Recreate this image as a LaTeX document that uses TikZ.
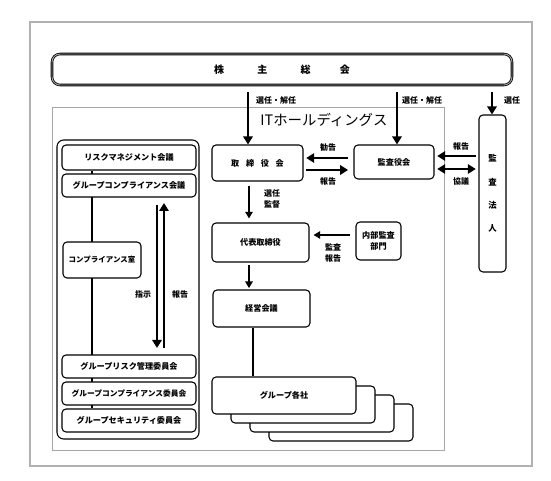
\documentclass[tikz,border=0pt]{standalone}
\usepackage{fontspec}
\setmainfont{Noto Sans CJK JP}
\usetikzlibrary{arrows.meta,backgrounds}

\tikzset{
  box/.style={draw, rounded corners=3pt, line width=0.8pt, fill=white, inner sep=0pt, align=center, font=\bfseries\fontsize{6.1}{8}\selectfont},
  lbl/.style={inner sep=0.75pt, align=center, font=\bfseries\fontsize{6}{8}\selectfont},
  arr/.style={line width=2.1pt, -{Triangle[length=6pt,width=7pt]}},
  arrs/.style={line width=1.5pt, -{Triangle[length=5pt,width=5.5pt]}},
}

\begin{document}
\begin{tikzpicture}[x=0.75pt,y=0.75pt,yscale=-1,xscale=1]
\useasboundingbox (0,0) rectangle (551,481);

%Frames
\draw [draw=black!60, double=black!30, double distance=0.8pt, line width=0.5pt] (30,22) rectangle (532,466);
\draw [black!35, line width=0.6pt] (52,107) rectangle (444,450);

% Shareholders meeting
\node [box, rounded corners=6pt, double=black!35, double distance=0.7pt, line width=0.6pt, minimum width=345pt, minimum height=23.25pt, font=\bfseries\fontsize{7.5}{9}\selectfont] (soukai) at (282,69.5) {株\hspace{25pt}主\hspace{25pt}総\hspace{22pt}会};

% Title
\node [inner sep=0.75pt, font=\fontsize{10.8}{12}\selectfont] (title) at (324,120) {ITホールディングス};

% Boxes
\node [box, minimum width=20.25pt, minimum height=117.75pt, font=\bfseries\fontsize{6.3}{17.5}\selectfont] (hojin) at (492.5,193.5) {監\\査\\法\\人};
\node [box, minimum width=68.25pt, minimum height=27pt] (torishimari) at (257.5,163) {取\hspace{5pt}締\hspace{5pt}役\hspace{5pt}会};
\node [box, minimum width=60pt, minimum height=25.5pt] (kansayaku) at (394,162) {監査役会};
\node [box, minimum width=72.75pt, minimum height=29.25pt] (daihyo) at (260.5,242.5) {代表取締役};
\node [box, minimum width=33.75pt, minimum height=28.5pt] (naibu) at (378.5,241) {内部監査\\部門};
\node [box, minimum width=72.75pt, minimum height=27.75pt] (keiei) at (261.5,308.5) {経営会議};

% Group companies
\node [box, minimum width=108pt, minimum height=27.75pt] (grpC) at (341,422.5) {};
\node [box, minimum width=108pt, minimum height=27.75pt] (grpB) at (322,413.5) {};
\node [box, minimum width=108pt, minimum height=27.75pt] (grpA) at (303,404.5) {};
\node [box, minimum width=108pt, minimum height=27.75pt] (grp) at (284,395.5) {グループ各社};

% Left panel
\node [box, fill=none, rounded corners=5pt, minimum width=106.5pt, minimum height=224.25pt] (panel) at (128,289.5) {};
\node [box, minimum width=100.5pt, minimum height=18.75pt] (rmc) at (129,157.5) {リスクマネジメント会議};
\node [box, minimum width=100.5pt, minimum height=17.25pt] (gcc) at (129,185.5) {グループコンプライアンス会議};
\node [box, minimum width=58.5pt, minimum height=27pt, font=\bfseries\fontsize{5.6}{8}\selectfont] (comproom) at (102,260) {コンプライアンス室};
\node [box, minimum width=100.5pt, minimum height=17.25pt] (grc) at (129,366.5) {グループリスク管理委員会};
\node [box, minimum width=100.5pt, minimum height=17.25pt, font=\bfseries\fontsize{5.8}{8}\selectfont] (gcom) at (129,393.5) {グループコンプライアンス委員会};
\node [box, minimum width=100.5pt, minimum height=17.25pt] (gsec) at (129,420.5) {グループセキュリティ委員会};

\coordinate (spine) at (92,0);
\begin{scope}[on background layer]
\draw [line width=1.5pt] (rmc.south -| spine) -- (gsec.north -| spine);
\end{scope}

% Left panel arrows
\coordinate (shijiT) at (157,205);
\coordinate (shijiB) at (157,348);
\coordinate (hokokuB) at (164,348);
\coordinate (hokokuT) at (164,203);
\draw [arr] (shijiT) -- (shijiB);
\draw [arr] (hokokuB) -- (hokokuT);
\node [lbl] (lshiji) at (143,294) {指示};
\node [lbl] (lhokoku) at (180,294) {報告};

% Arrows from shareholders
\coordinate (selA) at (248,0);
\coordinate (selB) at (397,0);
\coordinate (selC) at (492,0);
\draw [arr, shorten <=5pt] (soukai.south -| selA) -- (selA |- torishimari.north);
\draw [arr, shorten <=5pt] (soukai.south -| selB) -- (selB |- kansayaku.north);
\draw [arr, shorten <=5pt] (soukai.south -| selC) -- (selC |- hojin.north);
\node [lbl] (lselA) at (276,100) {選任・解任};
\node [lbl] (lselB) at (422,100) {選任・解任};
\node [lbl] (lselC) at (512,100) {選任};

% Board <-> auditors (yshift runs downwards here)
\draw [arr, shorten <=4pt, shorten >=2pt] ([yshift=-3pt]kansayaku.west) -- ([yshift=-3pt]kansayaku.west -| torishimari.east);
\draw [arr, shorten <=2pt, shorten >=4pt] ([yshift=6pt]kansayaku.west -| torishimari.east) -- ([yshift=6pt]kansayaku.west);
\node [lbl] (lkankoku) at (328,147) {勧告};
\node [lbl] (lhokokuA) at (328,181) {報告};

% Audit firm <-> auditors
\draw [arr, shorten <=2pt, shorten >=2pt] ([yshift=-4.5pt]kansayaku.east -| hojin.west) -- ([yshift=-4.5pt]kansayaku.east);
\draw [line width=2.1pt, {Triangle[length=6pt,width=7pt]}-{Triangle[length=6pt,width=7pt]}, shorten <=2pt, shorten >=2pt] ([yshift=5.25pt]kansayaku.east) -- ([yshift=5.25pt]kansayaku.east -| hojin.west);
\node [lbl] (lhokokuB) at (461,146) {報告};
\node [lbl] (lkyogi) at (461,181) {協議};

% Executive line
\coordinate (exec) at (249,0);
\draw [arrs, shorten <=3pt, shorten >=3pt] (torishimari.south -| exec) -- (daihyo.north -| exec);
\node [lbl] (lkantoku) at (272,199) {選任\\監督};
\draw [arrs, shorten <=4pt, shorten >=3pt] ([yshift=-4.5pt]naibu.west) -- ([yshift=-4.5pt]naibu.west -| daihyo.east);
\node [lbl] (lkansa) at (333,253) {監査\\報告};
\draw [arrs, shorten <=2pt, shorten >=1pt] (daihyo.south -| exec) -- (keiei.north -| exec);
\draw [line width=1.5pt] (keiei.south -| 253,0) -- (grp.north -| 253,0);

\end{tikzpicture}
\end{document}
